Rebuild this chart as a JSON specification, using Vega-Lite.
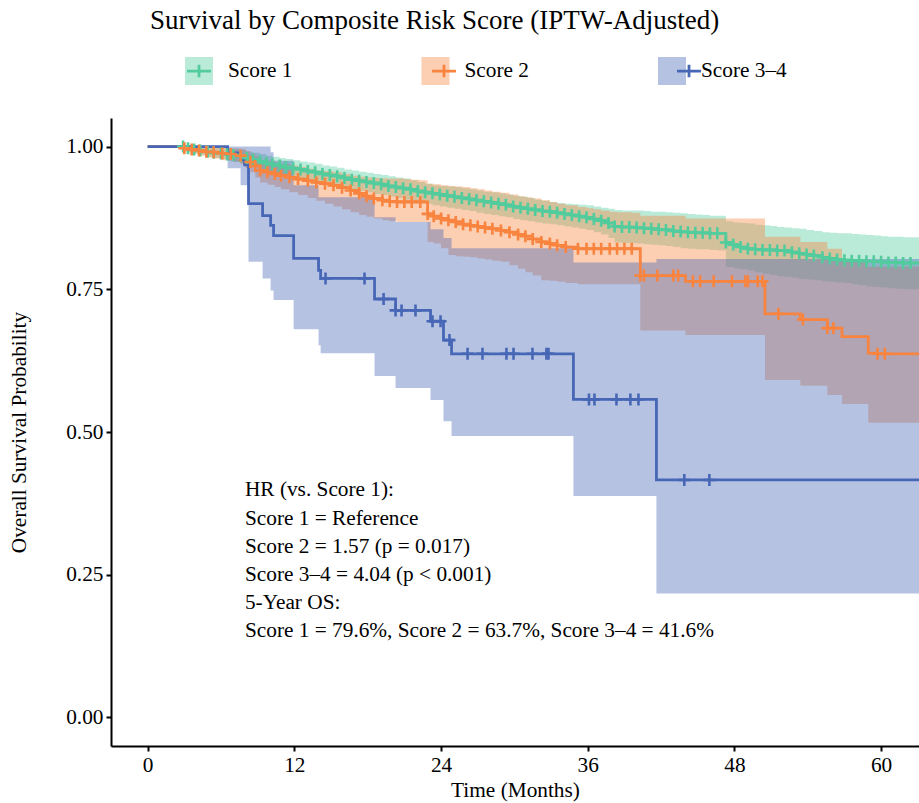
{
  "$schema": "https://vega.github.io/schema/vega-lite/v6.json",
  "autosize": "none",
  "width": 808,
  "height": 628,
  "padding": {"left": 111, "top": 118, "right": 0, "bottom": 57},
  "background": "white",
  "config": {"view": {"stroke": null}, "font": "Liberation Serif"},
  "title": {"text": "Survival by Composite Risk Score (IPTW-Adjusted)", "anchor": "start", "frame": "group", "dx": 39, "offset": 22, "font": "Liberation Serif", "fontSize": 27, "fontWeight": "normal", "color": "black"},
  "datasets": {
    "km": [
      {"group":"Score 1","time":0,"surv":1,"lower":1,"upper":1,"censor":0},
      {"group":"Score 1","time":2.9,"surv":1,"lower":1,"upper":1,"censor":1},
      {"group":"Score 1","time":3.3,"surv":0.997,"lower":0.99,"upper":1,"censor":1},
      {"group":"Score 1","time":3.8,"surv":0.995,"lower":0.988,"upper":1,"censor":1},
      {"group":"Score 1","time":4.3,"surv":0.993,"lower":0.985,"upper":1,"censor":1},
      {"group":"Score 1","time":4.9,"surv":0.991,"lower":0.982,"upper":0.999,"censor":1},
      {"group":"Score 1","time":5.4,"surv":0.989,"lower":0.98,"upper":0.998,"censor":1},
      {"group":"Score 1","time":6.0,"surv":0.988,"lower":0.978,"upper":0.997,"censor":1},
      {"group":"Score 1","time":6.5,"surv":0.986,"lower":0.975,"upper":0.996,"censor":1},
      {"group":"Score 1","time":7.0,"surv":0.985,"lower":0.973,"upper":0.995,"censor":1},
      {"group":"Score 1","time":7.6,"surv":0.983,"lower":0.971,"upper":0.994,"censor":1},
      {"group":"Score 1","time":8.1,"surv":0.98,"lower":0.968,"upper":0.991,"censor":1},
      {"group":"Score 1","time":8.6,"surv":0.977,"lower":0.964,"upper":0.989,"censor":1},
      {"group":"Score 1","time":9.2,"surv":0.974,"lower":0.96,"upper":0.987,"censor":1},
      {"group":"Score 1","time":9.7,"surv":0.971,"lower":0.957,"upper":0.984,"censor":1},
      {"group":"Score 1","time":10.2,"surv":0.969,"lower":0.954,"upper":0.982,"censor":1},
      {"group":"Score 1","time":10.8,"surv":0.967,"lower":0.952,"upper":0.98,"censor":1},
      {"group":"Score 1","time":11.3,"surv":0.964,"lower":0.949,"upper":0.978,"censor":1},
      {"group":"Score 1","time":11.9,"surv":0.962,"lower":0.946,"upper":0.976,"censor":1},
      {"group":"Score 1","time":12.5,"surv":0.96,"lower":0.944,"upper":0.974,"censor":1},
      {"group":"Score 1","time":13.1,"surv":0.957,"lower":0.941,"upper":0.972,"censor":1},
      {"group":"Score 1","time":13.7,"surv":0.955,"lower":0.938,"upper":0.97,"censor":1},
      {"group":"Score 1","time":14.3,"surv":0.952,"lower":0.935,"upper":0.967,"censor":1},
      {"group":"Score 1","time":14.9,"surv":0.95,"lower":0.933,"upper":0.965,"censor":1},
      {"group":"Score 1","time":15.5,"surv":0.948,"lower":0.931,"upper":0.963,"censor":1},
      {"group":"Score 1","time":16.1,"surv":0.945,"lower":0.928,"upper":0.96,"censor":1},
      {"group":"Score 1","time":16.7,"surv":0.942,"lower":0.925,"upper":0.958,"censor":1},
      {"group":"Score 1","time":17.3,"surv":0.94,"lower":0.922,"upper":0.956,"censor":1},
      {"group":"Score 1","time":17.9,"surv":0.938,"lower":0.92,"upper":0.954,"censor":1},
      {"group":"Score 1","time":18.5,"surv":0.936,"lower":0.917,"upper":0.952,"censor":1},
      {"group":"Score 1","time":19.1,"surv":0.934,"lower":0.915,"upper":0.95,"censor":1},
      {"group":"Score 1","time":19.7,"surv":0.931,"lower":0.912,"upper":0.948,"censor":1},
      {"group":"Score 1","time":20.3,"surv":0.929,"lower":0.91,"upper":0.946,"censor":1},
      {"group":"Score 1","time":20.9,"surv":0.927,"lower":0.907,"upper":0.944,"censor":1},
      {"group":"Score 1","time":21.5,"surv":0.925,"lower":0.905,"upper":0.941,"censor":1},
      {"group":"Score 1","time":22.1,"surv":0.922,"lower":0.902,"upper":0.938,"censor":1},
      {"group":"Score 1","time":22.7,"surv":0.92,"lower":0.9,"upper":0.935,"censor":1},
      {"group":"Score 1","time":23.3,"surv":0.918,"lower":0.897,"upper":0.932,"censor":1},
      {"group":"Score 1","time":23.9,"surv":0.916,"lower":0.895,"upper":0.931,"censor":1},
      {"group":"Score 1","time":24.5,"surv":0.914,"lower":0.893,"upper":0.93,"censor":1},
      {"group":"Score 1","time":25.1,"surv":0.912,"lower":0.891,"upper":0.929,"censor":1},
      {"group":"Score 1","time":25.7,"surv":0.91,"lower":0.889,"upper":0.927,"censor":1},
      {"group":"Score 1","time":26.3,"surv":0.908,"lower":0.887,"upper":0.925,"censor":1},
      {"group":"Score 1","time":26.9,"surv":0.906,"lower":0.884,"upper":0.923,"censor":1},
      {"group":"Score 1","time":27.5,"surv":0.904,"lower":0.882,"upper":0.921,"censor":1},
      {"group":"Score 1","time":28.1,"surv":0.902,"lower":0.88,"upper":0.92,"censor":1},
      {"group":"Score 1","time":28.7,"surv":0.9,"lower":0.878,"upper":0.918,"censor":1},
      {"group":"Score 1","time":29.3,"surv":0.898,"lower":0.876,"upper":0.916,"censor":1},
      {"group":"Score 1","time":29.9,"surv":0.895,"lower":0.873,"upper":0.914,"censor":1},
      {"group":"Score 1","time":30.5,"surv":0.893,"lower":0.871,"upper":0.912,"censor":1},
      {"group":"Score 1","time":31.1,"surv":0.891,"lower":0.869,"upper":0.91,"censor":1},
      {"group":"Score 1","time":31.7,"surv":0.889,"lower":0.867,"upper":0.907,"censor":1},
      {"group":"Score 1","time":32.3,"surv":0.887,"lower":0.865,"upper":0.905,"censor":1},
      {"group":"Score 1","time":32.9,"surv":0.886,"lower":0.864,"upper":0.903,"censor":1},
      {"group":"Score 1","time":33.5,"surv":0.884,"lower":0.862,"upper":0.901,"censor":1},
      {"group":"Score 1","time":34.1,"surv":0.882,"lower":0.86,"upper":0.9,"censor":1},
      {"group":"Score 1","time":34.7,"surv":0.88,"lower":0.858,"upper":0.899,"censor":1},
      {"group":"Score 1","time":35.3,"surv":0.878,"lower":0.856,"upper":0.898,"censor":1},
      {"group":"Score 1","time":35.9,"surv":0.876,"lower":0.854,"upper":0.897,"censor":1},
      {"group":"Score 1","time":36.5,"surv":0.873,"lower":0.85,"upper":0.895,"censor":1},
      {"group":"Score 1","time":37.1,"surv":0.87,"lower":0.846,"upper":0.893,"censor":1},
      {"group":"Score 1","time":37.7,"surv":0.866,"lower":0.84,"upper":0.891,"censor":1},
      {"group":"Score 1","time":38.2,"surv":0.86,"lower":0.832,"upper":0.889,"censor":1},
      {"group":"Score 1","time":38.8,"surv":0.859,"lower":0.831,"upper":0.888,"censor":1},
      {"group":"Score 1","time":39.4,"surv":0.859,"lower":0.831,"upper":0.888,"censor":1},
      {"group":"Score 1","time":40.0,"surv":0.858,"lower":0.83,"upper":0.888,"censor":1},
      {"group":"Score 1","time":40.6,"surv":0.857,"lower":0.829,"upper":0.887,"censor":1},
      {"group":"Score 1","time":41.2,"surv":0.856,"lower":0.828,"upper":0.886,"censor":1},
      {"group":"Score 1","time":41.8,"surv":0.855,"lower":0.827,"upper":0.886,"censor":1},
      {"group":"Score 1","time":42.4,"surv":0.854,"lower":0.826,"upper":0.885,"censor":1},
      {"group":"Score 1","time":43.0,"surv":0.852,"lower":0.824,"upper":0.884,"censor":1},
      {"group":"Score 1","time":43.6,"surv":0.851,"lower":0.822,"upper":0.883,"censor":1},
      {"group":"Score 1","time":44.2,"surv":0.85,"lower":0.821,"upper":0.882,"censor":1},
      {"group":"Score 1","time":44.8,"surv":0.849,"lower":0.82,"upper":0.881,"censor":1},
      {"group":"Score 1","time":45.4,"surv":0.849,"lower":0.82,"upper":0.88,"censor":1},
      {"group":"Score 1","time":46.0,"surv":0.848,"lower":0.819,"upper":0.879,"censor":1},
      {"group":"Score 1","time":46.6,"surv":0.848,"lower":0.818,"upper":0.879,"censor":1},
      {"group":"Score 1","time":47.3,"surv":0.832,"lower":0.789,"upper":0.869,"censor":1},
      {"group":"Score 1","time":47.9,"surv":0.828,"lower":0.787,"upper":0.867,"censor":1},
      {"group":"Score 1","time":48.5,"surv":0.824,"lower":0.785,"upper":0.866,"censor":1},
      {"group":"Score 1","time":49.1,"surv":0.821,"lower":0.783,"upper":0.865,"censor":1},
      {"group":"Score 1","time":49.7,"surv":0.82,"lower":0.78,"upper":0.863,"censor":1},
      {"group":"Score 1","time":50.3,"surv":0.819,"lower":0.777,"upper":0.862,"censor":1},
      {"group":"Score 1","time":50.9,"surv":0.819,"lower":0.775,"upper":0.861,"censor":1},
      {"group":"Score 1","time":51.5,"surv":0.818,"lower":0.773,"upper":0.859,"censor":1},
      {"group":"Score 1","time":52.1,"surv":0.818,"lower":0.772,"upper":0.858,"censor":1},
      {"group":"Score 1","time":52.7,"surv":0.815,"lower":0.77,"upper":0.857,"censor":1},
      {"group":"Score 1","time":53.3,"surv":0.813,"lower":0.768,"upper":0.856,"censor":1},
      {"group":"Score 1","time":53.9,"surv":0.811,"lower":0.767,"upper":0.854,"censor":1},
      {"group":"Score 1","time":54.5,"surv":0.809,"lower":0.766,"upper":0.852,"censor":1},
      {"group":"Score 1","time":55.2,"surv":0.806,"lower":0.764,"upper":0.85,"censor":1},
      {"group":"Score 1","time":55.8,"surv":0.804,"lower":0.763,"upper":0.849,"censor":1},
      {"group":"Score 1","time":56.4,"surv":0.802,"lower":0.762,"upper":0.848,"censor":1},
      {"group":"Score 1","time":57.0,"surv":0.801,"lower":0.761,"upper":0.848,"censor":1},
      {"group":"Score 1","time":57.6,"surv":0.8,"lower":0.759,"upper":0.847,"censor":1},
      {"group":"Score 1","time":58.2,"surv":0.8,"lower":0.757,"upper":0.846,"censor":1},
      {"group":"Score 1","time":58.8,"surv":0.799,"lower":0.755,"upper":0.845,"censor":1},
      {"group":"Score 1","time":59.4,"surv":0.799,"lower":0.754,"upper":0.844,"censor":1},
      {"group":"Score 1","time":60.0,"surv":0.798,"lower":0.753,"upper":0.843,"censor":1},
      {"group":"Score 1","time":60.6,"surv":0.797,"lower":0.752,"upper":0.842,"censor":1},
      {"group":"Score 1","time":61.2,"surv":0.797,"lower":0.751,"upper":0.842,"censor":1},
      {"group":"Score 1","time":61.8,"surv":0.796,"lower":0.75,"upper":0.841,"censor":1},
      {"group":"Score 1","time":62.4,"surv":0.796,"lower":0.75,"upper":0.841,"censor":1},
      {"group":"Score 1","time":63.1,"surv":0.796,"lower":0.75,"upper":0.841,"censor":0},

      {"group":"Score 2","time":0,"surv":1,"lower":1,"upper":1,"censor":0},
      {"group":"Score 2","time":3.0,"surv":0.997,"lower":0.99,"upper":1,"censor":1},
      {"group":"Score 2","time":3.6,"surv":0.995,"lower":0.987,"upper":1,"censor":1},
      {"group":"Score 2","time":4.2,"surv":0.993,"lower":0.984,"upper":1,"censor":1},
      {"group":"Score 2","time":4.8,"surv":0.991,"lower":0.981,"upper":1,"censor":1},
      {"group":"Score 2","time":5.4,"surv":0.99,"lower":0.979,"upper":0.999,"censor":1},
      {"group":"Score 2","time":6.1,"surv":0.988,"lower":0.976,"upper":0.998,"censor":1},
      {"group":"Score 2","time":6.8,"surv":0.987,"lower":0.974,"upper":0.997,"censor":1},
      {"group":"Score 2","time":7.6,"surv":0.984,"lower":0.969,"upper":0.996,"censor":1},
      {"group":"Score 2","time":8.0,"surv":0.978,"lower":0.962,"upper":0.992,"censor":0},
      {"group":"Score 2","time":8.4,"surv":0.973,"lower":0.955,"upper":0.988,"censor":1},
      {"group":"Score 2","time":8.8,"surv":0.966,"lower":0.946,"upper":0.983,"censor":1},
      {"group":"Score 2","time":9.2,"surv":0.958,"lower":0.937,"upper":0.977,"censor":1},
      {"group":"Score 2","time":9.8,"surv":0.955,"lower":0.933,"upper":0.975,"censor":1},
      {"group":"Score 2","time":10.4,"surv":0.952,"lower":0.929,"upper":0.972,"censor":1},
      {"group":"Score 2","time":10.9,"surv":0.949,"lower":0.925,"upper":0.97,"censor":1},
      {"group":"Score 2","time":11.6,"surv":0.946,"lower":0.92,"upper":0.967,"censor":1},
      {"group":"Score 2","time":12.3,"surv":0.943,"lower":0.915,"upper":0.964,"censor":1},
      {"group":"Score 2","time":13.1,"surv":0.94,"lower":0.91,"upper":0.961,"censor":1},
      {"group":"Score 2","time":13.8,"surv":0.937,"lower":0.905,"upper":0.958,"censor":1},
      {"group":"Score 2","time":14.5,"surv":0.935,"lower":0.9,"upper":0.957,"censor":1},
      {"group":"Score 2","time":15.2,"surv":0.932,"lower":0.895,"upper":0.955,"censor":1},
      {"group":"Score 2","time":15.9,"surv":0.928,"lower":0.89,"upper":0.952,"censor":1},
      {"group":"Score 2","time":16.6,"surv":0.923,"lower":0.885,"upper":0.949,"censor":1},
      {"group":"Score 2","time":17.3,"surv":0.918,"lower":0.88,"upper":0.947,"censor":1},
      {"group":"Score 2","time":17.9,"surv":0.913,"lower":0.877,"upper":0.946,"censor":1},
      {"group":"Score 2","time":18.5,"surv":0.909,"lower":0.874,"upper":0.945,"censor":1},
      {"group":"Score 2","time":19.2,"surv":0.906,"lower":0.871,"upper":0.944,"censor":1},
      {"group":"Score 2","time":19.8,"surv":0.904,"lower":0.869,"upper":0.944,"censor":1},
      {"group":"Score 2","time":20.4,"surv":0.903,"lower":0.868,"upper":0.944,"censor":1},
      {"group":"Score 2","time":21.0,"surv":0.903,"lower":0.868,"upper":0.943,"censor":1},
      {"group":"Score 2","time":21.6,"surv":0.903,"lower":0.868,"upper":0.942,"censor":1},
      {"group":"Score 2","time":22.3,"surv":0.903,"lower":0.868,"upper":0.941,"censor":1},
      {"group":"Score 2","time":22.9,"surv":0.882,"lower":0.833,"upper":0.935,"censor":1},
      {"group":"Score 2","time":23.4,"surv":0.878,"lower":0.83,"upper":0.934,"censor":1},
      {"group":"Score 2","time":24.0,"surv":0.874,"lower":0.822,"upper":0.932,"censor":1},
      {"group":"Score 2","time":24.6,"surv":0.871,"lower":0.81,"upper":0.931,"censor":1},
      {"group":"Score 2","time":25.2,"surv":0.868,"lower":0.808,"upper":0.93,"censor":1},
      {"group":"Score 2","time":25.8,"surv":0.864,"lower":0.807,"upper":0.929,"censor":1},
      {"group":"Score 2","time":26.4,"surv":0.862,"lower":0.806,"upper":0.927,"censor":1},
      {"group":"Score 2","time":27.0,"surv":0.86,"lower":0.804,"upper":0.925,"censor":1},
      {"group":"Score 2","time":27.6,"surv":0.858,"lower":0.802,"upper":0.923,"censor":1},
      {"group":"Score 2","time":28.2,"surv":0.856,"lower":0.8,"upper":0.921,"censor":1},
      {"group":"Score 2","time":28.9,"surv":0.853,"lower":0.798,"upper":0.919,"censor":1},
      {"group":"Score 2","time":29.6,"surv":0.85,"lower":0.792,"upper":0.916,"censor":1},
      {"group":"Score 2","time":30.3,"surv":0.846,"lower":0.786,"upper":0.913,"censor":1},
      {"group":"Score 2","time":30.9,"surv":0.843,"lower":0.78,"upper":0.911,"censor":1},
      {"group":"Score 2","time":31.5,"surv":0.838,"lower":0.774,"upper":0.909,"censor":1},
      {"group":"Score 2","time":32.2,"surv":0.833,"lower":0.766,"upper":0.906,"censor":1},
      {"group":"Score 2","time":32.9,"surv":0.83,"lower":0.765,"upper":0.903,"censor":1},
      {"group":"Score 2","time":33.5,"surv":0.827,"lower":0.763,"upper":0.9,"censor":1},
      {"group":"Score 2","time":34.2,"surv":0.824,"lower":0.761,"upper":0.897,"censor":1},
      {"group":"Score 2","time":35.2,"surv":0.821,"lower":0.759,"upper":0.894,"censor":1},
      {"group":"Score 2","time":35.9,"surv":0.821,"lower":0.759,"upper":0.892,"censor":1},
      {"group":"Score 2","time":36.5,"surv":0.821,"lower":0.759,"upper":0.89,"censor":1},
      {"group":"Score 2","time":37.1,"surv":0.821,"lower":0.759,"upper":0.888,"censor":1},
      {"group":"Score 2","time":37.8,"surv":0.821,"lower":0.759,"upper":0.886,"censor":1},
      {"group":"Score 2","time":38.4,"surv":0.821,"lower":0.759,"upper":0.885,"censor":1},
      {"group":"Score 2","time":39.0,"surv":0.821,"lower":0.759,"upper":0.885,"censor":1},
      {"group":"Score 2","time":39.6,"surv":0.821,"lower":0.759,"upper":0.884,"censor":1},
      {"group":"Score 2","time":40.3,"surv":0.774,"lower":0.678,"upper":0.879,"censor":1},
      {"group":"Score 2","time":40.6,"surv":0.774,"lower":0.678,"upper":0.879,"censor":1},
      {"group":"Score 2","time":41.7,"surv":0.774,"lower":0.678,"upper":0.879,"censor":1},
      {"group":"Score 2","time":43.0,"surv":0.774,"lower":0.678,"upper":0.879,"censor":1},
      {"group":"Score 2","time":43.4,"surv":0.774,"lower":0.678,"upper":0.879,"censor":1},
      {"group":"Score 2","time":44.0,"surv":0.764,"lower":0.67,"upper":0.874,"censor":0},
      {"group":"Score 2","time":44.6,"surv":0.764,"lower":0.67,"upper":0.874,"censor":1},
      {"group":"Score 2","time":45.2,"surv":0.764,"lower":0.67,"upper":0.874,"censor":1},
      {"group":"Score 2","time":46.3,"surv":0.764,"lower":0.67,"upper":0.874,"censor":1},
      {"group":"Score 2","time":47.8,"surv":0.764,"lower":0.67,"upper":0.874,"censor":1},
      {"group":"Score 2","time":48.9,"surv":0.764,"lower":0.67,"upper":0.874,"censor":1},
      {"group":"Score 2","time":49.1,"surv":0.764,"lower":0.67,"upper":0.874,"censor":1},
      {"group":"Score 2","time":49.9,"surv":0.764,"lower":0.67,"upper":0.874,"censor":1},
      {"group":"Score 2","time":50.3,"surv":0.764,"lower":0.67,"upper":0.874,"censor":1},
      {"group":"Score 2","time":50.5,"surv":0.707,"lower":0.591,"upper":0.842,"censor":0},
      {"group":"Score 2","time":51.6,"surv":0.707,"lower":0.591,"upper":0.842,"censor":1},
      {"group":"Score 2","time":53.4,"surv":0.697,"lower":0.581,"upper":0.833,"censor":0},
      {"group":"Score 2","time":53.6,"surv":0.697,"lower":0.581,"upper":0.833,"censor":1},
      {"group":"Score 2","time":55.6,"surv":0.682,"lower":0.565,"upper":0.821,"censor":1},
      {"group":"Score 2","time":56.1,"surv":0.682,"lower":0.565,"upper":0.821,"censor":1},
      {"group":"Score 2","time":56.8,"surv":0.667,"lower":0.549,"upper":0.8,"censor":0},
      {"group":"Score 2","time":58.95,"surv":0.638,"lower":0.516,"upper":0.79,"censor":0},
      {"group":"Score 2","time":59.7,"surv":0.637,"lower":0.516,"upper":0.79,"censor":1},
      {"group":"Score 2","time":60.3,"surv":0.637,"lower":0.516,"upper":0.79,"censor":1},
      {"group":"Score 2","time":63.1,"surv":0.637,"lower":0.516,"upper":0.79,"censor":0},

      {"group":"Score 3–4","time":0,"surv":1,"lower":1,"upper":1,"censor":0},
      {"group":"Score 3–4","time":6.54,"surv":0.989,"lower":0.962,"upper":1,"censor":0},
      {"group":"Score 3–4","time":7.6,"surv":0.977,"lower":0.932,"upper":1,"censor":0},
      {"group":"Score 3–4","time":7.93,"surv":0.968,"lower":0.932,"upper":1,"censor":0},
      {"group":"Score 3–4","time":8.25,"surv":0.9,"lower":0.798,"upper":1,"censor":0},
      {"group":"Score 3–4","time":9.4,"surv":0.879,"lower":0.769,"upper":1,"censor":0},
      {"group":"Score 3–4","time":10.06,"surv":0.862,"lower":0.748,"upper":0.99,"censor":0},
      {"group":"Score 3–4","time":10.3,"surv":0.844,"lower":0.731,"upper":0.975,"censor":0},
      {"group":"Score 3–4","time":11.94,"surv":0.804,"lower":0.68,"upper":0.932,"censor":0},
      {"group":"Score 3–4","time":13.98,"surv":0.783,"lower":0.652,"upper":0.911,"censor":0},
      {"group":"Score 3–4","time":14.15,"surv":0.769,"lower":0.638,"upper":0.911,"censor":0},
      {"group":"Score 3–4","time":14.55,"surv":0.769,"lower":0.638,"upper":0.911,"censor":1},
      {"group":"Score 3–4","time":17.74,"surv":0.769,"lower":0.638,"upper":0.911,"censor":1},
      {"group":"Score 3–4","time":18.56,"surv":0.733,"lower":0.598,"upper":0.876,"censor":0},
      {"group":"Score 3–4","time":19.3,"surv":0.733,"lower":0.598,"upper":0.876,"censor":1},
      {"group":"Score 3–4","time":20.28,"surv":0.713,"lower":0.577,"upper":0.868,"censor":1},
      {"group":"Score 3–4","time":20.77,"surv":0.713,"lower":0.577,"upper":0.868,"censor":1},
      {"group":"Score 3–4","time":21.91,"surv":0.713,"lower":0.577,"upper":0.868,"censor":1},
      {"group":"Score 3–4","time":23.14,"surv":0.694,"lower":0.556,"upper":0.855,"censor":0},
      {"group":"Score 3–4","time":23.3,"surv":0.694,"lower":0.556,"upper":0.855,"censor":1},
      {"group":"Score 3–4","time":23.96,"surv":0.694,"lower":0.556,"upper":0.855,"censor":1},
      {"group":"Score 3–4","time":24.2,"surv":0.661,"lower":0.519,"upper":0.84,"censor":0},
      {"group":"Score 3–4","time":24.69,"surv":0.661,"lower":0.519,"upper":0.84,"censor":1},
      {"group":"Score 3–4","time":24.86,"surv":0.637,"lower":0.493,"upper":0.822,"censor":0},
      {"group":"Score 3–4","time":26.17,"surv":0.637,"lower":0.493,"upper":0.822,"censor":1},
      {"group":"Score 3–4","time":27.39,"surv":0.637,"lower":0.493,"upper":0.822,"censor":1},
      {"group":"Score 3–4","time":29.35,"surv":0.637,"lower":0.493,"upper":0.822,"censor":1},
      {"group":"Score 3–4","time":29.93,"surv":0.637,"lower":0.493,"upper":0.822,"censor":1},
      {"group":"Score 3–4","time":31.48,"surv":0.637,"lower":0.493,"upper":0.822,"censor":1},
      {"group":"Score 3–4","time":32.62,"surv":0.637,"lower":0.493,"upper":0.822,"censor":1},
      {"group":"Score 3–4","time":32.79,"surv":0.637,"lower":0.493,"upper":0.822,"censor":1},
      {"group":"Score 3–4","time":34.83,"surv":0.557,"lower":0.388,"upper":0.797,"censor":0},
      {"group":"Score 3–4","time":36.1,"surv":0.557,"lower":0.388,"upper":0.797,"censor":1},
      {"group":"Score 3–4","time":36.55,"surv":0.557,"lower":0.388,"upper":0.797,"censor":1},
      {"group":"Score 3–4","time":38.35,"surv":0.557,"lower":0.388,"upper":0.797,"censor":1},
      {"group":"Score 3–4","time":39.49,"surv":0.557,"lower":0.388,"upper":0.797,"censor":1},
      {"group":"Score 3–4","time":40.15,"surv":0.557,"lower":0.388,"upper":0.797,"censor":1},
      {"group":"Score 3–4","time":41.62,"surv":0.416,"lower":0.217,"upper":0.803,"censor":0},
      {"group":"Score 3–4","time":43.9,"surv":0.416,"lower":0.217,"upper":0.803,"censor":1},
      {"group":"Score 3–4","time":45.95,"surv":0.416,"lower":0.217,"upper":0.803,"censor":1},
      {"group":"Score 3–4","time":63.1,"surv":0.416,"lower":0.217,"upper":0.803,"censor":0}
    ],
    "notes": [
      {"x": 7.96, "y": 0.417, "label": "HR (vs. Score 1):\nScore 1 = Reference\nScore 2 = 1.57 (p = 0.017)\nScore 3–4 = 4.04 (p < 0.001)\n5-Year OS:\nScore 1 = 79.6%, Score 2 = 63.7%, Score 3–4 = 41.6%"}
    ]
  },
  "layer": [
    {
      "data": {"name": "km"},
      "mark": {"type": "area", "interpolate": "step-after", "fillOpacity": 0.4, "clip": true},
      "encoding": {
        "x": {"field": "time", "type": "quantitative",
          "scale": {"domain": [-3, 63.1], "nice": false, "zero": false},
          "axis": {"values": [0, 12, 24, 36, 48, 60], "title": "Time (Months)", "grid": false,
            "domainColor": "black", "domainWidth": 2, "tickColor": "black", "tickWidth": 2, "tickSize": 5,
            "labelFont": "Liberation Serif", "labelFontSize": 21.3, "labelColor": "black", "labelPadding": 3,
            "titleFont": "Liberation Serif", "titleFontSize": 21.3, "titleFontWeight": "normal", "titleColor": "black", "titlePadding": 4}},
        "y": {"field": "upper", "type": "quantitative",
          "scale": {"domain": [-0.05, 1.05], "nice": false, "zero": false},
          "axis": {"values": [0, 0.25, 0.5, 0.75, 1], "format": ".2f", "title": "Overall Survival Probability", "grid": false,
            "domainColor": "black", "domainWidth": 2, "tickColor": "black", "tickWidth": 2, "tickSize": 5,
            "labelFont": "Liberation Serif", "labelFontSize": 21.3, "labelColor": "black", "labelPadding": 3,
            "titleFont": "Liberation Serif", "titleFontSize": 21.3, "titleFontWeight": "normal", "titleColor": "black", "titlePadding": 36}},
        "y2": {"field": "lower"},
        "fill": {"field": "group", "type": "nominal",
          "scale": {"range": ["#52CB9D", "#F8843F", "#4767B6"]},
          "legend": {"orient": "none", "legendX": 74, "legendY": -61, "direction": "horizontal", "columns": 3, "columnPadding": 107.5, "gridAlign": "all",
            "title": null, "padding": 0, "symbolType": "square", "symbolSize": 784, "symbolOpacity": 0.4, "symbolStrokeWidth": 0,
            "labelFont": "Liberation Serif", "labelFontSize": 21.3, "labelColor": "black", "labelOffset": 15, "labelLimit": 300}}
      }
    },
    {
      "data": {"name": "km"},
      "mark": {"type": "line", "interpolate": "step-after", "strokeWidth": 2.8, "clip": true},
      "encoding": {
        "x": {"field": "time", "type": "quantitative"},
        "y": {"field": "surv", "type": "quantitative"},
        "stroke": {"field": "group", "type": "nominal",
          "scale": {"domain": ["Score 1", "Score 2", "Score 3–4"], "range": ["#52CB9D", "#F8843F", "#4767B6"]},
          "legend": {"orient": "none", "legendX": 74, "legendY": -61, "direction": "horizontal", "columns": 3, "columnPadding": 209, "gridAlign": "all",
            "title": null, "padding": 0, "symbolType": "M-0.95,0H0.95M0,-0.5V0.5", "symbolSize": 635, "symbolStrokeWidth": 2.8,
            "labelExpr": "''", "labelFontSize": 1, "labelOffset": 0, "labelLimit": 300}}
      }
    },
    {
      "data": {"name": "km"},
      "transform": [{"filter": "datum.censor > 0"}],
      "mark": {"type": "point", "shape": "M-1,0H1M0,-1V1", "size": 144, "strokeWidth": 2.6, "filled": false, "opacity": 1, "clip": true},
      "encoding": {
        "x": {"field": "time", "type": "quantitative"},
        "y": {"field": "surv", "type": "quantitative"},
        "stroke": {"field": "group", "type": "nominal"}
      }
    },
    {
      "data": {"name": "notes"},
      "mark": {"type": "text", "align": "left", "baseline": "top", "lineBreak": "\n", "lineHeight": 28.2, "font": "Liberation Serif", "fontSize": 21.3, "color": "black"},
      "encoding": {
        "x": {"field": "x", "type": "quantitative"},
        "y": {"field": "y", "type": "quantitative"},
        "text": {"field": "label", "type": "nominal"}
      }
    }
  ]
}
